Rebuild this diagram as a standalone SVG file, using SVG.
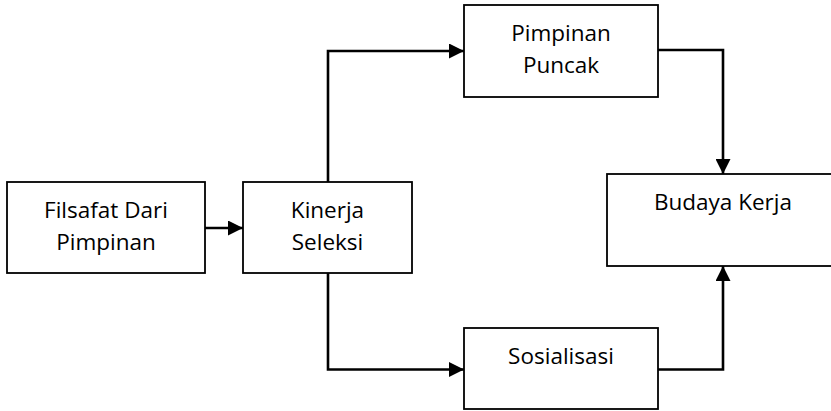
<svg xmlns="http://www.w3.org/2000/svg" width="831" height="411" viewBox="0 0 831 411">
  <defs>
    <marker id="arrow" markerUnits="userSpaceOnUse" markerWidth="16" markerHeight="15" refX="15" refY="7.5" orient="auto">
      <path d="M0,0 L15,7.5 L0,15 z" fill="#000"/>
    </marker>
    <style>
      .box { fill: #fff; stroke: #000; stroke-width: 1.8; }
      .lbl { font-family: "Open Sans", "Noto Sans", sans-serif; font-size: 22.5px; fill: #000; text-anchor: middle; }
      .conn { fill: none; stroke: #000; stroke-width: 2.6; marker-end: url(#arrow); }
    </style>
  </defs>
  <rect width="831" height="411" fill="#fff"/>

  <g id="connectors">
    <path class="conn" d="M205,228 L243,228"/>
    <path class="conn" d="M328,182 L328,51 L464,51"/>
    <path class="conn" d="M328,273 L328,369.5 L464,369.5"/>
    <path class="conn" d="M658,50 L723,50 L723,174"/>
    <path class="conn" d="M658,369.5 L723,369.5 L723,266"/>
  </g>

  <g id="filsafat">
    <rect class="box" x="7" y="182" width="198" height="91"/>
    <text class="lbl" x="106" y="218">Filsafat Dari</text>
    <text class="lbl" x="106" y="250">Pimpinan</text>
  </g>

  <g id="kinerja">
    <rect class="box" x="243" y="182" width="169" height="91"/>
    <text class="lbl" x="327.5" y="218">Kinerja</text>
    <text class="lbl" x="327.5" y="250">Seleksi</text>
  </g>

  <g id="pimpinan-puncak">
    <rect class="box" x="464" y="5" width="194" height="92"/>
    <text class="lbl" x="561" y="41">Pimpinan</text>
    <text class="lbl" x="561" y="73">Puncak</text>
  </g>

  <g id="budaya-kerja">
    <rect class="box" x="607" y="174" width="232" height="92"/>
    <text class="lbl" x="723" y="210">Budaya Kerja</text>
  </g>

  <g id="sosialisasi">
    <rect class="box" x="464" y="328" width="194" height="81"/>
    <text class="lbl" x="561" y="364">Sosialisasi</text>
  </g>
</svg>
